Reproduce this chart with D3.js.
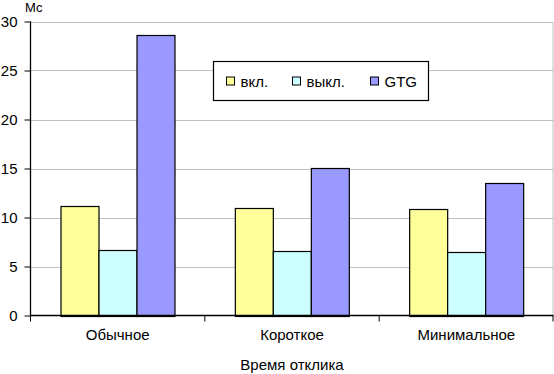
<!DOCTYPE html>
<html>
<head>
<meta charset="utf-8">
<script src="https://cdn.jsdelivr.net/npm/d3@7"></script>
<style>
  html, body { margin: 0; padding: 0; background: #fff; }
  svg { display: block; font-family: "Liberation Sans", Arial, sans-serif; }
</style>
</head>
<body>
<svg id="chart" width="554" height="374"></svg>
<script>
// chart data
const categories = ["Обычное", "Короткое", "Минимальное"];
const seriesNames = ["вкл.", "выкл.", "GTG"];
const vkl = [11.15, 10.92, 10.82];
const vykl = [6.73, 6.63, 6.53];
const gtg = [28.6, 15.1, 13.47];
const yTicks = [0, 5, 10, 15, 20, 25, 30];

const colors = ["#ffff99", "#ccffff", "#9999ff"];
const plot = { left: 30.5, right: 553.5, top: 21.5, bottom: 315.5 };

const svg = d3.select("#chart");

const x = d3.scaleBand().domain(categories).range([plot.left, plot.right]).paddingInner(0).paddingOuter(0);
// bars take ~115 of the 174px band, centred
const inner = d3.scaleBand().domain(seriesNames)
  .range([0, x.bandwidth()]).paddingInner(0).paddingOuter(0.77);
const y = d3.scaleLinear().domain([0, 30]).range([plot.bottom, plot.top]);

// gridlines
svg.append("g").selectAll("line").data(yTicks.filter(d => d > 0)).join("line")
  .attr("x1", plot.left).attr("x2", plot.right)
  .attr("y1", d => Math.round(y(d)) + 0.5).attr("y2", d => Math.round(y(d)) + 0.5)
  .attr("stroke", "#c0c0c0").attr("stroke-width", 1);

// right border of plot area
svg.append("line")
  .attr("x1", plot.right - 0.5).attr("x2", plot.right - 0.5)
  .attr("y1", Math.round(y(30)) + 0.5).attr("y2", plot.bottom)
  .attr("stroke", "#c0c0c0");

// bars
const rows = categories.map((c, i) => ({ cat: c, vals: [vkl[i], vykl[i], gtg[i]] }));
const groups = svg.append("g").selectAll("g").data(rows).join("g")
  .attr("transform", d => `translate(${x(d.cat)},0)`);
groups.selectAll("rect").data(d => d.vals.map((v, j) => ({ v, s: seriesNames[j], j }))).join("rect")
  .attr("x", d => Math.round(inner(d.s)) + 0.5)
  .attr("width", Math.round(inner.bandwidth()))
  .attr("y", d => Math.round(y(d.v)) + 0.5)
  .attr("height", d => Math.round(y(0)) - Math.round(y(d.v)))
  .attr("fill", d => colors[d.j])
  .attr("stroke", "#000").attr("stroke-width", 1.2);

// y axis
const yAxis = svg.append("g")
  .attr("transform", `translate(${plot.left},0)`)
  .call(d3.axisLeft(y).tickValues(yTicks).tickSize(6).tickPadding(7));
yAxis.select(".domain").attr("d", `M0,${plot.top}V${plot.bottom}`).attr("stroke", "#000").attr("stroke-width", 1.3);
yAxis.selectAll(".tick line").attr("stroke", "#000");
yAxis.selectAll("text").attr("font-size", 15).attr("fill", "#000")
  .attr("font-family", "Liberation Sans, Arial, sans-serif");

// x axis
const xAxis = svg.append("g")
  .attr("transform", `translate(0,${plot.bottom})`)
  .call(d3.axisBottom(x).tickSize(0).tickPadding(14));
xAxis.select(".domain").attr("d", `M${plot.left},0H${plot.right}`).attr("stroke", "#000").attr("stroke-width", 1.3);
xAxis.selectAll("text").attr("font-size", 15).attr("fill", "#000")
  .attr("font-family", "Liberation Sans, Arial, sans-serif");
// category boundary ticks
const bounds = categories.map(c => x(c)).concat([plot.right - 0.5]);
svg.append("g").selectAll("line").data(bounds).join("line")
  .attr("x1", d => d).attr("x2", d => d)
  .attr("y1", plot.bottom).attr("y2", plot.bottom + 6)
  .attr("stroke", "#000");

// axis titles
svg.append("text").attr("x", 25).attr("y", 12).attr("font-size", 13).text("Мс");
svg.append("text").attr("x", (plot.left + plot.right) / 2).attr("y", 370)
  .attr("text-anchor", "middle").attr("font-size", 15).text("Время отклика");

// legend
const lg = svg.append("g").attr("transform", "translate(213.5,61.5)");
lg.append("rect").attr("width", 215).attr("height", 39)
  .attr("fill", "#fff").attr("stroke", "#000").attr("stroke-width", 1.2);
const legX = [13, 79, 157];
const items = lg.selectAll("g").data(seriesNames).join("g")
  .attr("transform", (d, i) => `translate(${legX[i]},0)`);
items.append("rect").attr("y", 15.5).attr("width", 8).attr("height", 8)
  .attr("fill", (d, i) => colors[i]).attr("stroke", "#000");
items.append("text").attr("x", 14).attr("y", 25).attr("font-size", 15).text(d => d);
</script>
</body>
</html>
